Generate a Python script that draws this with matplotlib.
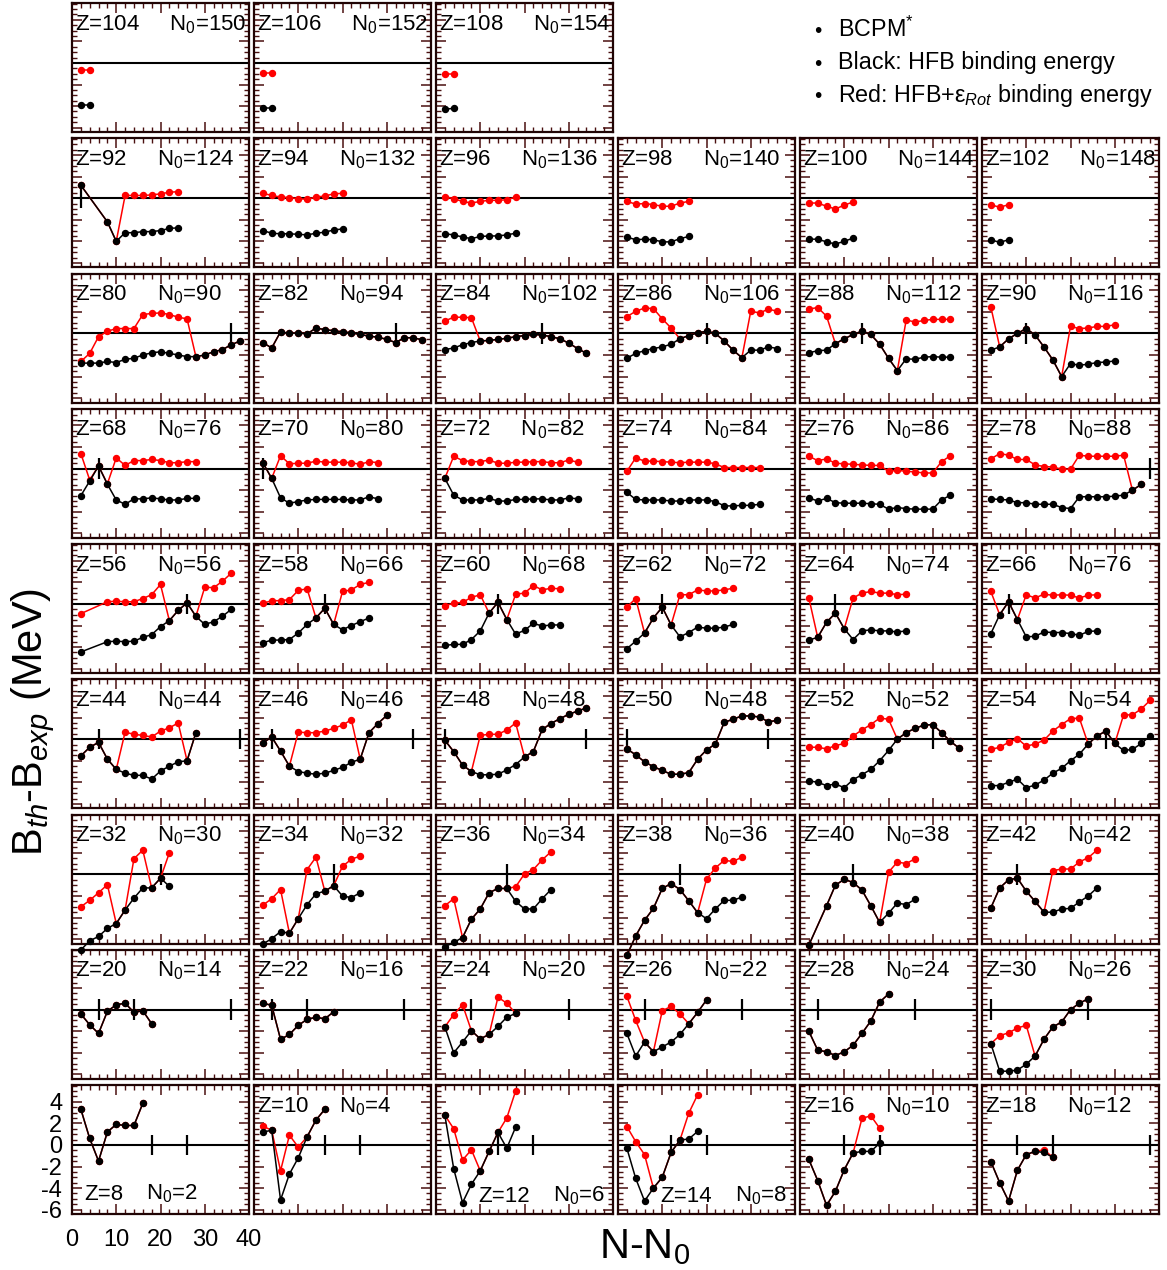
import numpy as np
import matplotlib
matplotlib.use("Agg")
import matplotlib.pyplot as plt
from matplotlib.ticker import MultipleLocator

plt.rcParams['font.family'] = ['Liberation Sans', 'DejaVu Sans']
plt.rcParams['mathtext.fontset'] = 'custom'
plt.rcParams['mathtext.rm'] = 'Liberation Sans'
plt.rcParams['mathtext.it'] = 'Liberation Sans:italic'
plt.rcParams['mathtext.bf'] = 'Liberation Sans:bold'
plt.rcParams['axes.unicode_minus'] = False

nan = np.nan

# proton numbers and reference neutron numbers, one panel each
z_values = [8, 10, 12, 14, 16, 18, 20, 22, 24, 26, 28, 30, 32, 34, 36, 38, 40, 42,
            44, 46, 48, 50, 52, 54, 56, 58, 60, 62, 64, 66, 68, 70, 72, 74, 76, 78,
            80, 82, 84, 86, 88, 90, 92, 94, 96, 98, 100, 102, 104, 106, 108]
n0_values = [2, 4, 6, 8, 10, 12, 14, 16, 20, 22, 24, 26, 30, 32, 34, 36, 38, 42,
             44, 46, 48, 48, 52, 54, 56, 66, 68, 72, 74, 76, 76, 80, 82, 84, 86, 88,
             90, 94, 102, 106, 112, 116, 124, 132, 136, 140, 144, 148, 150, 152, 154]
magic_numbers = [20, 28, 50, 82, 126]
bottom_label_z = [8, 12, 14]

# B_th - B_exp (MeV) at N-N0 = 2, 4, 6, ...  (nan = no nucleus)
black_8 = [3.3, 0.6, -1.5, 1.2, 1.9, 1.8, 1.8, 3.85]
red_8 = black_8
black_10 = [1.2, 1.35, -5.1, -2.7, -1.2, 0.75, 2.3, 3.3]
red_10 = [1.75, 1.35, -2.4, 0.9, -0.2, 0.75, 2.3, 3.3]
black_12 = [2.75, -2.2, -5.35, -3.65, -2.4, -0.6, 1.15, -0.3, 1.65]
red_12 = [2.75, 1.5, -1.4, -0.45, -2.4, -0.6, 1.15, 2.5, 5.0]
black_14 = [-0.3, -3.1, -5.2, -4.0, -3.0, -0.7, 0.45, 0.55, 1.25]
red_14 = [1.7, 0.3, -0.9, -4.0, -3.0, -0.7, 0.45, 2.95, 4.65]
black_16 = [-1.35, -3.3, -5.6, -4.3, -2.3, -0.75, -0.6, -0.6, 0.15]
red_16 = [-1.35, -3.3, -5.6, -4.3, -2.3, -0.75, 2.45, 2.7, 1.55]
black_18 = [-1.55, -3.5, -5.2, -2.35, -0.9, -0.6, -0.7, -1.15]
red_18 = [-1.55, -3.5, -5.2, -2.35, -0.9, -0.6, -0.45, -1.15]
black_20 = [-0.4, -1.4, -2.2, -0.15, 0.45, 0.6, -0.25, -0.1, -1.3]
red_20 = black_20
black_22 = [0.6, 0.4, -2.75, -2.3, -1.45, -0.9, -0.7, -0.85, -0.2]
red_22 = black_22
black_24 = [-1.6, -4.0, -3.0, -1.95, -2.7, -2.3, -1.55, -0.7, -0.35]
red_24 = [-1.6, -0.45, 0.45, -1.95, -2.7, -2.3, 1.15, 0.6, -0.35]
black_26 = [-2.2, -4.3, -3.0, -3.9, -3.45, -3.0, -2.3, -1.3, -0.25, 0.9]
red_26 = [1.25, -1.0, -3.0, -3.9, -0.1, 0.3, -0.4, -1.3, -0.25, 0.9]
black_28 = [-2.0, -3.75, -3.9, -4.25, -3.9, -3.3, -2.2, -1.05, 0.7, 1.45]
red_28 = black_28
black_30 = [-3.15, -5.7, -5.7, -5.6, -5.05, -4.3, -2.75, -1.6, -1.15, 0.0, 0.6, 1.0]
red_30 = [-3.15, -2.4, -2.15, -1.7, -1.45, -4.3, -2.75, -1.6, -1.15, 0.0, 0.6, 1.0]
black_32 = [-7.0, -6.15, -5.75, -5.0, -4.55, -3.3, -2.2, -1.25, -1.25, -0.35, -1.1]
red_32 = [-3.0, -2.4, -1.7, -0.95, -4.55, -3.3, 1.45, 2.25, -1.25, -0.35, 2.0]
black_34 = [-6.45, -5.95, -5.3, -5.45, -4.1, -2.8, -1.8, -1.55, -1.05, -2.0, -2.15, -1.7]
red_34 = [-2.85, -2.25, -1.4, -5.45, -4.1, 0.45, 1.6, -1.55, -1.05, 0.75, 1.4, 1.7]
black_36 = [-6.7, -6.3, -5.85, -4.15, -3.2, -1.7, -1.3, -1.3, -2.5, -3.2, -3.2, -2.25, -1.4]
red_36 = [-2.9, -2.25, -5.85, -4.15, -3.2, -1.7, -1.3, -1.3, -1.15, 0.05, 0.45, 1.35, 2.1]
black_38 = [-7.5, -5.7, -4.25, -3.15, -1.3, -0.85, -1.4, -2.45, -3.55, -4.1, -3.2, -2.4, -2.4, -2.1]
red_38 = [-7.5, -5.7, -4.25, -3.15, -1.3, -0.85, -1.4, -2.45, -3.55, -0.45, 0.6, 1.3, 1.2, 1.6]
black_40 = [-6.55, nan, -2.9, -1.0, -0.45, -0.75, -1.45, -2.9, -4.45, -3.6, -2.65, -2.8, -2.3]
red_40 = [-6.55, nan, -2.9, -1.0, -0.45, -0.75, -1.45, -2.9, -4.45, 0.2, 1.15, 1.0, 1.45]
black_42 = [-3.1, -1.25, -0.5, -0.35, -1.55, -2.5, -3.5, -3.5, -3.2, -3.15, -2.55, -2.0, -1.25]
red_42 = [-3.1, -1.25, -0.5, -0.35, -1.55, -2.5, -3.5, 0.35, 0.5, 0.5, 1.15, 1.55, 2.25]
black_44 = [-1.55, -0.75, -0.3, -1.85, -2.8, -3.15, -3.35, -3.35, -3.7, -2.95, -2.5, -2.1, -2.0, 0.6]
red_44 = [-1.55, -0.75, -0.3, -1.85, -2.8, 0.65, 0.45, 0.35, 0.2, 0.75, 1.05, 1.5, -2.0, 0.6]
black_46 = [-0.35, 0.2, -1.1, -2.5, -3.0, -3.15, -3.25, -3.15, -2.9, -2.6, -2.15, -1.85, 0.6, 1.45, 2.2]
red_46 = [-0.35, 0.2, -1.1, -2.5, 0.65, 0.6, 0.6, 0.75, 1.0, 1.3, 1.8, -1.85, 0.6, 1.45, 2.2]
black_48 = [-0.1, -1.15, -2.4, -3.0, -3.3, -3.3, -3.25, -2.85, -2.35, -1.65, -1.15, 0.9, 1.45,
            1.9, 2.3, 2.6, 2.9]
red_48 = [-0.1, -1.15, -2.4, -3.0, 0.35, 0.45, 0.45, 0.85, 1.5, -1.65, -1.15, 0.9, 1.45,
          1.9, 2.3, 2.6, 2.9]
black_50 = [-0.9, -1.45, -2.1, -2.55, -2.9, -3.25, -3.25, -3.1, -1.85, -1.0, -0.45, 1.55, 1.85,
            2.15, 2.15, 2.05, 1.6, 1.75]
red_50 = black_50
black_52 = [-3.85, -4.0, -4.3, -4.15, -4.5, -3.75, -3.3, -2.8, -2.0, -1.05, 0.0, 0.6, 1.0,
            1.3, 1.35, 0.6, -0.2, -0.85]
red_52 = [-0.75, -0.75, -0.9, -0.6, -0.4, 0.3, 0.85, 1.35, 1.95, 1.85, 0.0, 0.6, 1.0,
          1.3, 1.35, 0.6, -0.2, -0.85]
black_54 = [-4.3, -4.3, -4.0, -3.7, -4.5, -4.25, -3.8, -3.15, -2.7, -2.0, -1.4, -0.45, 0.3,
            0.75, -0.4, -1.05, -0.95, -0.4, 0.3]
red_54 = [-0.95, -0.75, -0.3, 0.05, -0.65, -0.45, -0.1, 0.75, 1.35, 1.9, 1.95, -0.45, 0.3,
          0.75, -0.4, 2.25, 2.25, 2.8, 3.6]
black_56 = [-4.45, nan, nan, -3.5, -3.45, -3.5, -3.45, -3.1, -2.85, -2.1, -1.55, -0.6, 0.1,
            -1.15, -1.9, -1.65, -1.15, -0.5]
red_56 = [-0.9, nan, nan, 0.2, 0.25, 0.2, 0.2, 0.5, 0.85, 1.8, -1.55, -0.6, 0.1,
          -1.15, 1.55, 1.5, 2.1, 2.85]
black_58 = [-3.6, -3.35, -3.35, -3.3, -2.7, -1.9, -1.3, -0.4, -1.9, -2.4, -2.0, -1.65, -1.3]
red_58 = [0.05, 0.3, 0.3, 0.4, 1.25, 1.4, -1.3, -0.4, -1.9, 1.15, 1.3, 1.8, 2.0]
black_60 = [-3.85, -3.75, -3.75, -3.3, -2.5, -0.85, 0.15, -1.45, -2.8, -2.45, -1.8, -2.05, -1.95, -1.95]
red_60 = [-0.15, 0.05, 0.15, 0.6, 0.85, -0.85, 0.15, -1.45, 0.9, 1.0, 1.7, 1.3, 1.45, 1.4]
black_62 = [-4.15, -3.45, -2.7, -1.3, -0.3, -1.95, -3.05, -2.65, -2.15, -2.25, -2.25, -2.15, -1.9]
red_62 = [-0.3, 0.5, -2.7, -1.3, -0.3, -1.95, 0.85, 0.85, 1.3, 1.2, 1.2, 1.3, 1.45]
black_64 = [-3.35, -3.1, -1.7, -0.85, -2.3, -3.3, -2.5, -2.4, -2.5, -2.5, -2.6, -2.5]
red_64 = [0.55, -3.1, -1.7, -0.85, -2.3, 0.55, 1.0, 1.15, 1.0, 1.0, 0.85, 0.9]
black_66 = [-2.75, -1.0, 0.2, -1.45, -3.05, -3.0, -2.6, -2.65, -2.65, -2.75, -2.9, -2.55, -2.5]
red_66 = [1.15, -1.0, 0.2, -1.45, 0.85, 0.55, 0.9, 0.8, 0.85, 0.8, 0.55, 0.8, 0.85]
black_68 = [-2.5, -1.15, 0.25, -1.45, -2.9, -3.3, -2.8, -2.8, -2.7, -2.8, -2.9, -2.9, -2.75, -2.75]
red_68 = [1.4, -1.05, 0.25, -1.4, 1.0, 0.3, 0.75, 0.75, 0.85, 0.75, 0.55, 0.55, 0.65, 0.65]
black_70 = [0.55, -0.9, -2.7, -3.2, -3.05, -2.9, -2.85, -2.85, -2.85, -2.85, -2.9, -2.9, -2.6, -2.8]
red_70 = [0.55, -0.9, 1.2, 0.45, 0.5, 0.5, 0.7, 0.6, 0.6, 0.6, 0.55, 0.4, 0.65, 0.55]
black_72 = [-0.9, -2.45, -2.9, -2.9, -2.9, -2.75, -3.0, -3.0, -2.85, -2.85, -2.8, -2.8, -2.9,
            -2.9, -2.7, -2.8]
red_72 = [-0.9, 1.15, 0.75, 0.65, 0.65, 0.8, 0.5, 0.5, 0.6, 0.6, 0.65, 0.65, 0.55, 0.55, 0.8, 0.6]
black_74 = [-2.2, -2.85, -2.9, -2.9, -2.9, -3.0, -3.0, -2.9, -2.9, -2.9, -3.05, -3.45, -3.45,
            -3.4, -3.4, -3.3]
red_74 = [-0.25, 1.0, 0.7, 0.7, 0.65, 0.6, 0.55, 0.6, 0.6, 0.6, 0.45, 0.1, 0.1, 0.1, 0.1, 0.1]
black_76 = [-2.7, -3.0, -2.75, -3.15, -3.2, -3.2, -3.2, -3.25, -3.3, -3.75, -3.6, -3.7, -3.75,
            -3.75, -3.75, -2.9, -2.45]
red_76 = [1.15, 0.75, 0.9, 0.5, 0.45, 0.4, 0.35, 0.3, 0.3, -0.25, -0.15, -0.25, -0.3,
          -0.4, -0.4, 0.65, 1.2]
black_78 = [-2.8, -2.85, -2.9, -3.15, -3.15, -3.3, -3.3, -3.3, -3.6, -3.7, -2.6, -2.6, -2.6,
            -2.6, -2.55, -2.45, -2.0, -1.45]
red_78 = [0.9, 1.4, 1.25, 0.85, 0.85, 0.35, 0.2, 0.15, -0.05, -0.05, 1.25, 1.15, 1.15,
          1.15, 1.15, 1.25, -2.0, -1.45]
black_80 = [-2.75, -2.75, -2.75, -2.6, -2.7, -2.4, -2.3, -2.0, -1.8, -1.7, -1.85, -2.0, -2.15,
            -2.15, -2.0, -1.7, -1.5, -1.05, -0.7]
red_80 = [-2.6, -1.85, -0.3, 0.2, 0.45, 0.45, 0.45, 1.75, 1.85, 1.9, 1.75, 1.5, 1.35,
          -2.15, -2.0, -1.7, -1.5, -1.05, -0.7]
black_82 = [-0.85, -1.35, 0.15, 0.0, 0.05, -0.05, 0.5, 0.35, 0.25, 0.15, 0.05, -0.1, -0.25,
            -0.35, -0.55, -0.85, -0.4, -0.4, -0.6]
red_82 = black_82
black_84 = [-1.5, -1.35, -1.05, -0.85, -0.7, -0.65, -0.55, -0.45, -0.3, -0.2, -0.1, -0.15,
            -0.3, -0.5, -0.9, -1.4, -1.85]
red_84 = [1.15, 1.5, 1.5, 1.45, -0.7, -0.65, -0.55, -0.45, -0.3, -0.2, -0.1, -0.15,
          -0.3, -0.5, -0.9, -1.4, -1.85]
black_86 = [-2.3, -1.85, -1.6, -1.4, -1.25, -1.0, -0.5, -0.2, 0.05, 0.2, 0.0, -0.7, -1.55,
            -2.25, -1.55, -1.55, -1.25, -1.4]
red_86 = [1.55, 2.05, 2.35, 2.3, 1.35, 0.5, -0.5, -0.2, 0.05, 0.2, 0.0, -0.7, -1.55,
          -2.25, 2.05, 1.9, 2.25, 2.05]
black_88 = [-1.8, -1.6, -1.55, -0.95, -0.5, -0.1, 0.2, -0.1, -1.0, -2.3, -3.45, -2.35, -2.4,
            -2.2, -2.15, -2.2, -2.2]
red_88 = [2.25, 2.4, 1.6, -0.95, -0.5, -0.1, 0.2, -0.1, -1.0, -2.3, -3.45, 1.25, 1.05,
          1.2, 1.3, 1.3, 1.3]
black_90 = [-1.55, -1.25, -0.5, 0.0, 0.45, -0.15, -1.25, -2.45, -4.0, -2.8, -2.95, -2.85,
            -2.7, -2.65, -2.55]
red_90 = [2.45, -1.25, -0.5, 0.0, 0.45, -0.15, -1.25, -2.45, -4.0, 0.65, 0.45, 0.5,
          0.65, 0.65, 0.8]
black_92 = [1.2, nan, nan, -2.2, -4.0, -3.2, -3.2, -3.1, -3.1, -3.0, -2.8, -2.75]
red_92 = [1.2, nan, nan, -2.2, -4.0, 0.25, 0.25, 0.25, 0.3, 0.4, 0.55, 0.6]
black_94 = [-3.0, -3.25, -3.3, -3.3, -3.35, -3.4, -3.25, -3.15, -2.95, -2.85]
red_94 = [0.45, 0.25, 0.1, 0.05, -0.05, -0.1, 0.1, 0.2, 0.4, 0.45]
black_96 = [-3.3, -3.4, -3.6, -3.75, -3.55, -3.5, -3.5, -3.4, -3.25]
red_96 = [0.15, -0.05, -0.3, -0.45, -0.3, -0.2, -0.2, -0.15, 0.1]
black_98 = [-3.6, -3.85, -3.8, -3.85, -4.05, -4.05, -3.75, -3.55]
red_98 = [-0.3, -0.55, -0.5, -0.6, -0.75, -0.75, -0.45, -0.3]
black_100 = [-3.8, -3.8, -4.05, -4.25, -4.0, -3.7]
red_100 = [-0.45, -0.45, -0.75, -1.0, -0.65, -0.35]
black_102 = [-3.85, -4.1, -3.85]
red_102 = [-0.6, -0.85, -0.6]
black_104 = [-3.9, -3.9]
red_104 = [-0.7, -0.7]
black_106 = [-4.2, -4.2]
red_106 = [-0.9, -0.9]
black_108 = [-4.3, -4.2]
red_108 = [-1.0, -1.0]

legend_lines = ['BCPM$^{*}$', 'Black: HFB binding energy',
                'Red: HFB+\u03b5$_{Rot}$ binding energy']

black_series = [globals()['black_%d' % z] for z in z_values]
red_series = [globals()['red_%d' % z] for z in z_values]

W, H = 1167, 1270
fig = plt.figure(figsize=(W / 100, H / 100), dpi=100)
ax_w, ax_h = 177, 129


def make_axes(row, col):
    left = 72 + 182 * col
    top = 3 + 135.25 * row
    return fig.add_axes([left / W, 1 - (top + ax_h) / H, ax_w / W, ax_h / H])


frame_col = '#200404'
tick_col = '#4a1010'
for k, (z, n0) in enumerate(zip(z_values, n0_values)):
    row = 8 - k // 6
    col = k % 6
    ax = make_axes(row, col)
    blk = np.array(black_series[k], dtype=float)
    red = np.array(red_series[k], dtype=float)
    x = np.arange(2, 2 * len(blk) + 1, 2)
    ok = ~np.isnan(red)
    ax.plot(x[ok], red[ok], '-o', color='#ff0000', lw=1.1, ms=4.3, clip_on=False, zorder=3)
    ok = ~np.isnan(blk)
    ax.plot(x[ok], blk[ok], '-o', color='black', lw=1.1, ms=4.3, clip_on=False, zorder=4)
    ax.axhline(0, color='black', lw=1.5, zorder=2)
    marks = [m - n0 for m in magic_numbers if 0 < m - n0 < 40]
    if marks:
        ax.vlines(marks, -0.95, 0.95, color='black', lw=1.6, zorder=2)

    ax.set_xlim(0, 40)
    ax.set_ylim(-6.4, 5.55)
    ax.xaxis.set_major_locator(MultipleLocator(10))
    ax.xaxis.set_minor_locator(MultipleLocator(2))
    ax.yaxis.set_major_locator(MultipleLocator(2))
    ax.yaxis.set_minor_locator(MultipleLocator(0.5))
    ax.tick_params(which='both', direction='in', top=True, right=True, color=tick_col,
                   labelbottom=False, labelleft=False)
    ax.tick_params(which='major', length=7, width=1.1)
    ax.tick_params(which='minor', length=3.5, width=1.0)
    for sp in ax.spines.values():
        sp.set_color(frame_col)
        sp.set_linewidth(1.6)

    if z in bottom_label_z:
        if z == 8:
            ax.text(0.07, 0.11, 'Z=%d' % z, transform=ax.transAxes, fontsize=16, va='baseline')
            ax.text(0.42, 0.11, 'N$_0$=%d' % n0, transform=ax.transAxes, fontsize=16, va='baseline')
        else:
            ax.text(0.24, 0.095, 'Z=%d' % z, transform=ax.transAxes, fontsize=16, va='baseline')
            ax.text(0.66, 0.095, 'N$_0$=%d' % n0, transform=ax.transAxes, fontsize=16, va='baseline')
    else:
        ax.text(0.017, 0.79, 'Z=%d     N$_0$=%d' % (z, n0), transform=ax.transAxes,
                fontsize=16, va='baseline', ha='left')

    if k == 0:
        ax.tick_params(labelbottom=True, labelleft=True, labelsize=17)
        ax.tick_params(axis='x', which='major', pad=11)
        ax.tick_params(axis='y', which='major', pad=7)

# legend text block in the empty upper-right corner
for i, txt in enumerate(legend_lines):
    yb = 1 - (37 + 32.5 * i) / H
    fig.text(818 / W, yb, '\u2022', fontsize=15, ha='center', va='baseline')
    fig.text(838 / W, yb, txt, fontsize=16.8, ha='left', va='baseline')

fig.text(33 / W, 1 - 722 / H, 'B$_{th}$-B$_{exp}$ (MeV)', rotation=90, fontsize=30,
         ha='center', va='center')
fig.text(645 / W, 1 - 1258 / H, 'N-N$_0$', fontsize=30, ha='center', va='baseline')

fig.savefig('out.png', dpi=100)
